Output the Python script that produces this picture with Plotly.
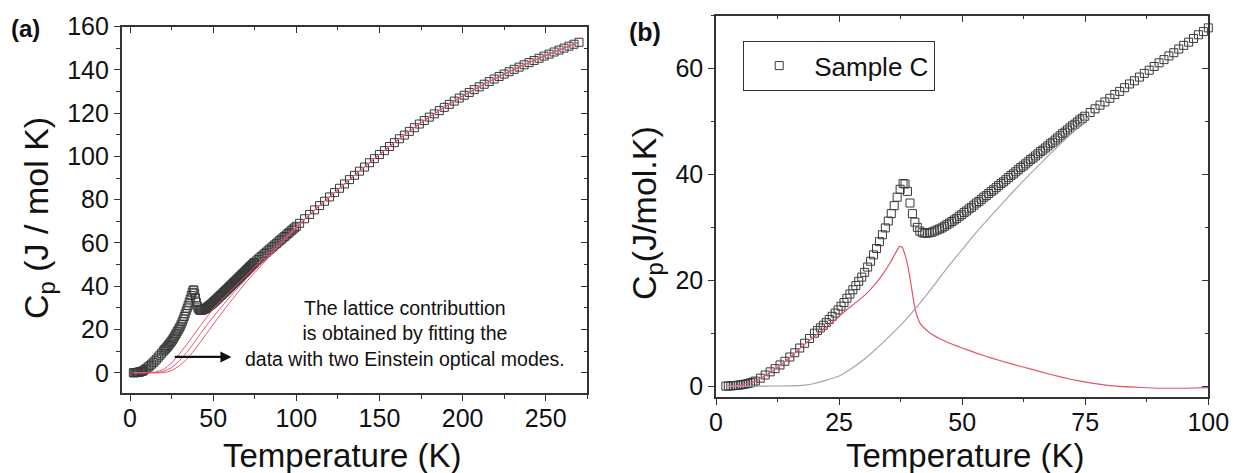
import plotly.graph_objects as go

FONT = "Liberation Sans, Arial, sans-serif"

# ---------------- data ----------------
T_data = [2.0, 2.5, 3.0, 3.5, 4.0, 4.5, 5.0, 5.5, 6.0, 6.5, 7.0, 7.5, 8.0,
          9, 10, 11, 12, 13, 14, 15, 16, 17, 18, 19,
          20.0, 20.6, 21.2, 21.8, 22.4, 23.0, 23.6, 24.2, 24.8, 25.4, 26.0, 26.6,
          27.2, 27.8, 28.4, 29.0, 29.6, 30.2, 30.8, 31.4, 32.0, 32.6, 33.2, 33.8,
          34.4, 35.0, 35.6, 36.2, 36.8, 37.4, 38.0,
          38.4, 38.9, 39.4, 39.9, 40.4, 40.9, 41.4, 41.9,
          42.4, 42.9, 43.4, 43.9, 44.4, 44.9, 45.4, 45.9, 46.4, 46.9, 47.4, 47.9,
          48.4, 48.9, 49.4, 49.9, 50.4, 50.9, 51.4, 51.9, 52.4, 52.9, 53.4, 53.9,
          54.4, 54.9, 55.4, 55.9, 56.4, 56.9, 57.4, 57.9, 58.4, 58.9, 59.4, 59.9,
          60.4, 60.9, 61.4, 61.9, 62.4, 62.9, 63.4, 63.9, 64.4, 64.9, 65.4, 65.9,
          66.4, 66.9, 67.4, 67.9, 68.4, 68.9, 69.4, 69.9, 70.4, 70.9, 71.4, 71.9,
          72.4, 72.9, 73.4, 73.9, 74.4, 74.9,
          76, 77, 78, 79, 80, 81, 82, 83, 84, 85, 86, 87, 88, 89, 90, 91, 92, 93,
          94, 95, 96, 97, 98, 99, 100,
          102, 105, 108, 111, 114, 117, 120, 123, 126, 129, 132, 135, 138, 141,
          144, 147, 150, 153, 156, 159, 162, 165, 168, 171, 174, 177, 180, 183,
          186, 189, 192, 195, 198, 201, 204, 207, 210, 213, 216, 219, 222, 225,
          228, 231, 234, 237, 240, 243, 246, 249, 252, 255, 258, 261, 264, 267, 270]

Cp_data = [0.0, 0.02, 0.05, 0.08, 0.12, 0.17, 0.23, 0.3, 0.4, 0.5, 0.62, 0.76, 0.95,
           1.5, 2.1, 2.7, 3.3, 4.0, 4.7, 5.5, 6.3, 7.2, 8.1, 9.0,
           10.0, 10.5, 11.0, 11.5, 12.0, 12.6, 13.2, 13.8, 14.4, 15.1, 15.8, 16.6,
           17.4, 18.2, 19.0, 19.8, 20.6, 21.5, 22.5, 23.6, 24.8, 26.0, 27.3, 28.6,
           29.9, 31.2, 32.6, 34.1, 35.7, 37.2, 38.3,
           38.2, 36.8, 34.6, 32.6, 31.0, 30.0, 29.3, 29.0,
           28.9, 28.9, 29.0, 29.1, 29.3, 29.5, 29.7, 29.9, 30.2, 30.5, 30.8, 31.1,
           31.4, 31.7, 32.1, 32.4, 32.8, 33.1, 33.5, 33.8, 34.2, 34.6, 34.9, 35.3,
           35.7, 36.0, 36.4, 36.8, 37.1, 37.5, 37.9, 38.3, 38.6, 39.0, 39.4, 39.8,
           40.1, 40.5, 40.9, 41.3, 41.6, 42.0, 42.4, 42.8, 43.1, 43.5, 43.9, 44.3,
           44.6, 45.0, 45.4, 45.8, 46.1, 46.5, 46.9, 47.3, 47.7, 48.0, 48.4, 48.8,
           49.2, 49.5, 49.9, 50.3, 50.6, 51.0,
           51.7, 52.4, 53.1, 53.7, 54.4, 55.1, 55.7, 56.4, 57.1, 57.7, 58.4, 59.1,
           59.7, 60.4, 61.1, 61.7, 62.4, 63.0, 63.7, 64.4, 65.0, 65.7, 66.4, 67.0, 67.7,
           69.1, 71.2, 73.2, 75.3, 77.3, 79.3, 81.3, 83.3, 85.3, 87.3, 89.3, 91.3,
           93.2, 95.1, 97.1, 99.0, 100.9, 102.7, 104.6, 106.4, 108.2, 109.9, 111.6,
           113.3, 115.0, 116.6, 118.2, 119.7, 121.2, 122.7, 124.1, 125.6, 127.0,
           128.3, 129.6, 130.9, 132.2, 133.4, 134.6, 135.8, 137.0, 138.1, 139.2,
           140.3, 141.3, 142.4, 143.4, 144.4, 145.4, 146.4, 147.3, 148.3, 149.2,
           150.1, 151.0, 151.9, 152.8]

# panel (a): lattice fits (two Einstein optical modes)
T_fit_low = [2, 10, 15, 20, 25, 30, 35, 40, 45, 50, 55, 60, 70, 80, 90, 100]
fit_A = [0, 0, 0.3, 1.5, 4.5, 9.0, 14.0, 19.3, 24.5, 29.5, 33.5, 37.5, 45.0, 53.0, 60.3, 67.5]
fit_B = [0, 0, 0, 0.6, 2.4, 5.8, 10.3, 15.5, 20.8, 25.8, 30.5, 35.0, 43.5, 51.5, 59.5, 67.0]
fit_C = [0, 0, 0, 0, 1.0, 3.4, 7.0, 11.8, 17.0, 22.3, 27.5, 32.5, 42.0, 50.5, 59.0, 66.8]
T_fit_high = [110, 120, 130, 140, 150, 160, 170, 180, 190, 200, 210, 220, 230, 240,
              250, 260, 270]
fit_high = [74.6, 81.3, 88.0, 94.5, 100.9, 107.0, 112.8, 118.2, 123.2, 127.9, 132.2,
            136.2, 139.9, 143.4, 146.7, 149.8, 152.8]

# panel (b): magnetic (red) and lattice (grey) contributions
T_mag = [2, 5, 8, 10, 12, 15, 18, 20, 22, 24, 26, 28, 30, 32, 34, 35.5, 36.5, 37.3,
         37.8, 38.4, 39.0, 39.6, 40.2, 40.8, 41.5, 42.5, 44, 46, 48, 50, 53, 56, 60,
         64, 68, 72, 76, 80, 85, 90, 95, 100]
Cp_mag = [0, 0.2, 0.9, 2.0, 3.2, 5.4, 7.9, 9.4, 10.9, 12.3, 14.0, 15.5, 17.0, 18.9,
          21.3, 23.5, 25.2, 26.4, 26.3, 24.8, 22.6, 19.3, 15.8, 13.4, 11.8, 10.8, 9.7,
          8.7, 7.9, 7.2, 6.2, 5.3, 4.2, 3.2, 2.2, 1.3, 0.6, 0.1, -0.2, -0.4, -0.4, -0.3]
T_lat = [2, 10, 15, 18, 20, 22, 25, 27, 30, 32, 35, 38, 41, 44, 47, 50, 53, 56, 60,
         64, 68, 72, 75, 76]
Cp_lat = [0, 0, 0.05, 0.2, 0.5, 1.0, 1.9, 3.0, 5.0, 6.6, 9.2, 12.0, 15.2, 18.7, 22.4,
          25.8, 29.2, 32.3, 36.4, 40.3, 44.0, 47.6, 50.3, 51.2]

a_xticks = [0, 50, 100, 150, 200, 250]
a_yticks = [0, 20, 40, 60, 80, 100, 120, 140, 160]
b_xticks = [0, 25, 50, 75, 100]
b_yticks = [0, 20, 40, 60]

# ---------------- figure ----------------
SQ = dict(symbol="square-open", size=8, color="#3a3a3a", line=dict(width=1, color="#3a3a3a"))
RED = "#e5566b"
GREY = "#a6a6a6"

fig = go.Figure()

# panel (a)
fig.add_trace(go.Scatter(x=T_data, y=Cp_data, mode="markers", marker=SQ,
                         xaxis="x", yaxis="y", showlegend=False, cliponaxis=False))
for f in (fit_A, fit_B, fit_C):
    fig.add_trace(go.Scatter(x=T_fit_low + T_fit_high, y=f + fit_high, mode="lines",
                             line=dict(color=RED, width=1, shape="spline", smoothing=0.5),
                             xaxis="x", yaxis="y", showlegend=False))

# panel (b)
T_b = [t for t in T_data if t <= 100]
Cp_b = [c for t, c in zip(T_data, Cp_data) if t <= 100]
fig.add_trace(go.Scatter(x=T_b, y=Cp_b, mode="markers", marker=SQ, name="Sample C",
                         xaxis="x2", yaxis="y2", showlegend=True, cliponaxis=False))
fig.add_trace(go.Scatter(x=T_mag, y=Cp_mag, mode="lines",
                         line=dict(color=RED, width=1.2, shape="spline", smoothing=0.3),
                         xaxis="x2", yaxis="y2", showlegend=False))
fig.add_trace(go.Scatter(x=T_lat, y=Cp_lat, mode="lines",
                         line=dict(color=GREY, width=1.2, shape="spline", smoothing=0.4),
                         xaxis="x2", yaxis="y2", showlegend=False))

# empty traces so that the mirror (inside-tick) axes get drawn
for xa, ya in (("x3", "y3"), ("x4", "y4")):
    fig.add_trace(go.Scatter(x=[], y=[], xaxis=xa, yaxis=ya, showlegend=False, hoverinfo="skip"))

W, H = 1233, 473
a_dom_x = [121.7 / W, 587.3 / W]
a_dom_y = [(H - 393.3) / H, (H - 26.7) / H]
b_dom_x = [716 / W, 1208.3 / W]
b_dom_y = [(H - 396.7) / H, (H - 15.7) / H]

LINE = "#333333"
tickfont = dict(family=FONT, size=25, color="#111111")


def main_axis(rng, dom, anchor, tickvals, minor_dtick, standoff=0):
    return dict(range=rng, domain=dom, anchor=anchor, showgrid=False, zeroline=False,
                automargin=False,
                showline=True, linecolor=LINE, linewidth=1.6, mirror=True,
                ticks="outside", ticklen=6, tickwidth=1.4, tickcolor=LINE,
                tickmode="array", tickvals=tickvals, tickfont=tickfont,
                ticklabelstandoff=standoff,
                minor=dict(ticks="outside", ticklen=3.5, tickwidth=1.2, tickcolor=LINE,
                           dtick=minor_dtick, tick0=0, showgrid=False))


def mirror_axis(rng, dom, anchor, overlay, side, tickvals, minor_dtick):
    return dict(range=rng, domain=dom, anchor=anchor, overlaying=overlay, side=side,
                automargin=False,
                showgrid=False, zeroline=False, showline=False, showticklabels=False,
                ticks="inside", ticklen=6, tickwidth=1.4, tickcolor=LINE,
                tickmode="array", tickvals=tickvals,
                minor=dict(ticks="inside", ticklen=3.5, tickwidth=1.2, tickcolor=LINE,
                           dtick=minor_dtick, tick0=0, showgrid=False))


a_xr, a_yr = [-5, 275], [-9.5, 160]
b_xr, b_yr = [0, 100], [-2, 70]

fig.update_layout(
    template="none",
    width=W, height=H, autosize=False,
    margin=dict(l=0, r=0, t=0, b=0, pad=0),
    paper_bgcolor="white", plot_bgcolor="white",
    font=dict(family=FONT, color="#111111"),
    xaxis=main_axis(a_xr, a_dom_x, "y", a_xticks, 25, -4),
    yaxis=main_axis(a_yr, a_dom_y, "x", a_yticks, 10),
    xaxis2=main_axis(b_xr, b_dom_x, "y2", b_xticks, 12.5, -4),
    yaxis2=main_axis(b_yr, b_dom_y, "x2", b_yticks, 10),
    xaxis3=mirror_axis(a_xr, a_dom_x, "y3", "x", "top", a_xticks, 25),
    yaxis3=mirror_axis(a_yr, a_dom_y, "x3", "y", "right", a_yticks, 10),
    xaxis4=mirror_axis(b_xr, b_dom_x, "y4", "x2", "top", b_xticks, 12.5),
    yaxis4=mirror_axis(b_yr, b_dom_y, "x4", "y2", "right", b_yticks, 10),
    legend=dict(x=743 / W, y=(H - 41) / H, xanchor="left", yanchor="top",
                bordercolor=LINE, borderwidth=1.2, bgcolor="white",
                font=dict(family=FONT, size=26, color="#111111"), itemwidth=60),
    showlegend=True,
)

ann = []
# axis titles
ann.append(dict(text="Temperature (K)", x=342 / W, y=(H - 455) / H, xref="paper", yref="paper",
                showarrow=False, xanchor="center", yanchor="middle",
                font=dict(family=FONT, size=33, color="#111111")))
ann.append(dict(text="Temperature (K)", x=965 / W, y=(H - 455) / H, xref="paper", yref="paper",
                showarrow=False, xanchor="center", yanchor="middle",
                font=dict(family=FONT, size=33, color="#111111")))
ann.append(dict(text="C<sub>p</sub> (J / mol K)", x=38 / W, y=(H - 218) / H, xref="paper",
                yref="paper", showarrow=False, textangle=-90, xanchor="center",
                yanchor="middle", font=dict(family=FONT, size=34, color="#111111")))
ann.append(dict(text="C<sub>p</sub>(J/mol.K)", x=646 / W, y=(H - 213) / H, xref="paper",
                yref="paper", showarrow=False, textangle=-90, xanchor="center",
                yanchor="middle", font=dict(family=FONT, size=34, color="#111111")))
# panel labels
ann.append(dict(text="<b>(a)</b>", x=9 / W, y=(H - 28) / H, xref="paper", yref="paper",
                showarrow=False, xanchor="left", yanchor="middle",
                font=dict(family=FONT, size=24, color="#111111")))
ann.append(dict(text="<b>(b)</b>", x=627 / W, y=(H - 32) / H, xref="paper", yref="paper",
                showarrow=False, xanchor="left", yanchor="middle",
                font=dict(family=FONT, size=25, color="#111111")))
# note text
ann.append(dict(text="The lattice contributtion<br>is obtained by fitting the<br>"
                     "data with two Einstein optical modes.",
                x=405 / W, y=(H - 333) / H, xref="paper", yref="paper", showarrow=False,
                xanchor="center", yanchor="middle", align="center",
                font=dict(family=FONT, size=19.5, color="#111111")))
# arrow
ann.append(dict(text="", x=61, y=7.3, ax=26, ay=7.3, xref="x", yref="y", axref="x",
                ayref="y", showarrow=True, arrowhead=2, arrowsize=1, arrowwidth=2.2,
                arrowcolor="#111111"))
fig.update_layout(annotations=ann)

fig.write_html("out.html")
